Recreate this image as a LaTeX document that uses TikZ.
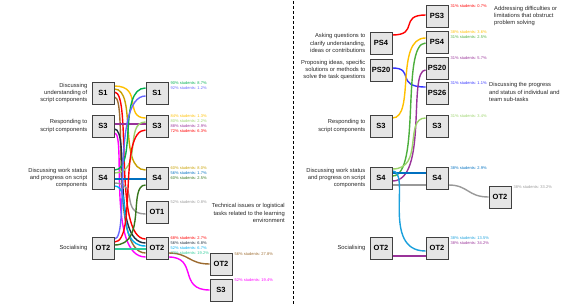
\documentclass[tikz,border=0pt]{standalone}
\usepackage{fontspec}
\setmainfont{Liberation Sans}
\usepackage{tikz}
\usetikzlibrary{positioning,calc,backgrounds}
\definecolor{FlowGreen}{HTML}{00B050}
\definecolor{FlowBluish}{HTML}{6666FF}
\definecolor{FlowYellow}{HTML}{FFC000}
\definecolor{FlowLime}{HTML}{9BD36B}
\definecolor{FlowPurple}{HTML}{993399}
\definecolor{FlowRed}{HTML}{FF0000}
\definecolor{FlowGold}{HTML}{C8A000}
\definecolor{FlowBlue}{HTML}{0070C0}
\definecolor{FlowDarkGreen}{HTML}{38761D}
\definecolor{FlowGray}{HTML}{999999}
\definecolor{FlowNavy}{HTML}{1F3040}
\definecolor{FlowCyan}{HTML}{00B0F0}
\definecolor{FlowTeal}{HTML}{2ECC9A}
\definecolor{FlowBrown}{HTML}{9C6B30}
\definecolor{FlowMagenta}{HTML}{FF00FF}
\definecolor{FlowMidGreen}{HTML}{4CAF3C}
\definecolor{FlowRoyal}{HTML}{3333FF}
\definecolor{FlowSky}{HTML}{1AA0DC}

\begin{document}
\begin{tikzpicture}[x=1pt, y=-1pt,
    state/.style={draw=black!75, fill=black!10, line width=0.9pt,
                  minimum width=22pt, minimum height=22pt, inner sep=0pt,
                  font=\fontsize{7.5}{8}\selectfont\bfseries},
    code/.style={font=\fontsize{5.8}{7.3}\selectfont, text=black!85,
                 align=right, inner sep=0pt},
    note/.style={font=\fontsize{5.8}{7.3}\selectfont, text=black!85, inner sep=0pt},
    stat/.style={font=\fontsize{4}{5}\selectfont, align=left,
                 anchor=north west, inner sep=0pt, xshift=2pt},
    flow/.style={line width=1.4pt},
  ]
    \useasboundingbox (0,0) rectangle (571,305);

    % divider
    \coordinate (divtop) at (293,1);
    \coordinate (divbot) at (293,305);
    \draw[dash pattern=on 3pt off 2pt, line width=0.6pt] (divtop) -- (divbot);

    % ---- left panel: first step
    \node[state] (s1a) at (103,93) {S1};
    \node[state] (s3a) at (103,126) {S3};
    \node[state] (s4a) at (103,178) {S4};
    \node[state] (ot2a) at (103,248) {OT2};
    \node[code, left=4pt of s1a] (s1a-text) {Discussing\\understanding of\\script components};
    \node[code, left=4pt of s3a] (s3a-text) {Responding to\\script components};
    \node[code, left=4pt of s4a] (s4a-text) {Discussing work status\\and progress on script\\components};
    \node[code, left=4pt of ot2a] (ot2a-text) {Socialising};

    % ---- left panel: second step
    \node[state] (s1b) at (157,93) {S1};
    \node[state] (s3b) at (157,126) {S3};
    \node[state] (s4b) at (157,178) {S4};
    \node[state] (ot1b) at (157,212) {OT1};
    \node[state] (ot2b) at (157,248) {OT2};
    \node[code, anchor=east] (ot1b-text) at (285,213)
      {Technical issues or logistical\\tasks related to the learning\\environment};

    % ---- left panel: third step
    \node[state] (ot2c) at (221,264) {OT2};
    \node[state] (s3c) at (221,290) {S3};

    % ---- left panel: shares
    \node[stat] (s1b-stat) at (s1b.north east)
      {\textcolor{FlowGreen}{90\% students: 8.7\%}\\\textcolor{FlowBluish}{92\% students: 1.2\%}};
    \node[stat] (s3b-stat) at (s3b.north east)
      {\textcolor{FlowYellow}{84\% students: 1.3\%}\\\textcolor{FlowLime}{80\% students: 2.2\%}\\
       \textcolor{FlowPurple}{88\% students: 2.9\%}\\\textcolor{FlowRed}{72\% students: 6.3\%}};
    \node[stat] (s4b-stat) at (s4b.north east)
      {\textcolor{FlowGold}{60\% students: 8.0\%}\\\textcolor{FlowBlue}{56\% students: 1.7\%}\\
       \textcolor{FlowDarkGreen}{60\% students: 2.5\%}};
    \node[stat] (ot1b-stat) at (ot1b.north east)
      {\textcolor{FlowGray}{52\% students: 0.8\%}};
    \node[stat] (ot2b-stat) at (ot2b.north east)
      {\textcolor{FlowRed}{68\% students: 2.7\%}\\\textcolor{FlowNavy}{56\% students: 6.8\%}\\
       \textcolor{FlowCyan}{52\% students: 6.7\%}\\\textcolor{FlowTeal}{72\% students: 19.2\%}};
    \node[stat] (ot2c-stat) at (ot2c.north east)
      {\textcolor{FlowBrown}{56\% students: 27.8\%}};
    \node[stat] (s3c-stat) at (s3c.north east)
      {\textcolor{FlowMagenta}{52\% students: 19.4\%}};

    % ---- right panel: first step
    \node[state] (rps4a) at (381,43) {PS4};
    \node[state] (rps20a) at (381,70) {PS20};
    \node[state] (rs3a) at (381,126) {S3};
    \node[state] (rs4a) at (381,178) {S4};
    \node[state] (rot2a) at (381,248) {OT2};
    \node[code, left=4pt of rps4a] (rps4a-text) {Asking questions to\\clarify understanding,\\ideas or contributions};
    \node[code, left=4pt of rps20a] (rps20a-text) {Proposing ideas, specific\\solutions or methods to\\solve the task questions};
    \node[code, left=4pt of rs3a] (rs3a-text) {Responding to\\script components};
    \node[code, left=4pt of rs4a] (rs4a-text) {Discussing work status\\and progress on script\\components};
    \node[code, left=4pt of rot2a] (rot2a-text) {Socialising};

    % ---- right panel: second step
    \node[state] (rps3b) at (437,16) {PS3};
    \node[state] (rps4b) at (437,42) {PS4};
    \node[state] (rps20b) at (437,68) {PS20};
    \node[state] (rps26b) at (437,93) {PS26};
    \node[state] (rs3b) at (437,126) {S3};
    \node[state] (rs4b) at (437,178) {S4};
    \node[state] (rot2b) at (437,248) {OT2};
    \node[note, align=left, anchor=west] (rps3b-text) at (494,16)
      {Addressing difficulties or\\limitations that obstruct\\problem solving};
    \node[note, align=left, anchor=west] (rps26b-text) at (489,92)
      {Discussing the progress\\and status of individual and\\team sub-tasks};

    % ---- right panel: third step
    \node[state] (rot2c) at (500,197) {OT2};

    % ---- right panel: shares
    \node[stat] (rps3b-stat) at (rps3b.north east)
      {\textcolor{FlowRed}{31\% students: 0.7\%}};
    \node[stat] (rps4b-stat) at (rps4b.north east)
      {\textcolor{FlowYellow}{38\% students: 3.6\%}\\\textcolor{FlowMidGreen}{31\% students: 2.5\%}};
    \node[stat] (rps20b-stat) at (rps20b.north east)
      {\textcolor{FlowPurple}{31\% students: 5.7\%}};
    \node[stat] (rps26b-stat) at (rps26b.north east)
      {\textcolor{FlowRoyal}{31\% students: 1.1\%}};
    \node[stat] (rs3b-stat) at (rs3b.north east)
      {\textcolor{FlowLime}{31\% students: 3.4\%}};
    \node[stat] (rs4b-stat) at (rs4b.north east)
      {\textcolor{FlowBlue}{38\% students: 2.9\%}};
    \node[stat] (rot2c-stat) at (rot2c.north east)
      {\textcolor{FlowGray}{38\% students: 33.2\%}};
    \node[stat] (rot2b-stat) at (rot2b.north east)
      {\textcolor{FlowSky}{38\% students: 13.5\%}\\\textcolor{FlowPurple}{38\% students: 34.2\%}};

    % ---- flows
    \begin{scope}[on background layer]
      % left panel
      \draw[flow, FlowYellow] ([yshift=7pt]s1a.east) .. controls +(29,0) and +(-22,0) .. ([yshift=8pt]s3b.west);
      \draw[flow, FlowGold] ([yshift=4pt]s1a.east) .. controls +(23,0) and +(-28,0) .. ([yshift=8pt]s4b.west);
      \draw[flow, FlowRed] ([yshift=1pt]s1a.east) .. controls +(18,0) and +(-33,0) .. ([yshift=9pt]ot2b.west);
      \draw[flow, FlowBrown] ([yshift=-4pt]s1a.east) .. controls +(14,0) and +(-37,0) .. ([yshift=-5pt]ot2b.west);
      \draw[flow, FlowPurple] ([yshift=2pt]s3a.east) -- ([yshift=2pt]s3b.west);
      \draw[flow, FlowNavy] ([yshift=-3pt]s3a.east) .. controls +(16,0) and +(-35,0) .. ([yshift=5pt]ot2b.west);
      \draw[flow, FlowMagenta] ([yshift=-7pt]s3a.east) .. controls +(12,0) and +(-39,0) .. ([yshift=-9pt]ot2b.west);
      \draw[flow, FlowGreen] ([yshift=8pt]s4a.east) .. controls +(23,0) and +(-28,0) .. ([yshift=5pt]s1b.west);
      \draw[flow, FlowLime] ([yshift=5pt]s4a.east) .. controls +(29,0) and +(-22,0) .. ([yshift=4pt]s3b.west);
      \draw[flow, FlowBlue] ([yshift=-1pt]s4a.east) -- ([yshift=-1pt]s4b.west);
      \draw[flow, FlowGray] ([yshift=-5pt]s4a.east) .. controls +(25,0) and +(-26,0) .. ([yshift=-2pt]ot1b.west);
      \draw[flow, FlowCyan] ([yshift=-8pt]s4a.east) .. controls +(19,0) and +(-32,0) .. ([yshift=2pt]ot2b.west);
      \draw[flow, FlowBluish] ([yshift=9pt]ot2a.east) .. controls +(16,0) and +(-35,0) .. ([yshift=-3pt]s1b.west);
      \draw[flow, FlowRed] ([yshift=6pt]ot2a.east) .. controls +(23,0) and +(-28,0) .. ([yshift=-4pt]s3b.west);
      \draw[flow, FlowDarkGreen] ([yshift=3pt]ot2a.east) .. controls +(33,0) and +(-18,0) .. ([yshift=-7pt]s4b.west);
      \draw[flow, FlowTeal] ([yshift=-1pt]ot2a.east) -- ([yshift=-1pt]ot2b.west);
      \draw[flow, FlowBrown] ([yshift=-5pt]ot2b.east) .. controls +(21,0) and +(-21,0) .. (ot2c.west);
      \draw[flow, FlowMagenta] ([yshift=-9pt]ot2b.east) .. controls +(30,0) and +(-32,0) .. (s3c.west);
      % right panel
      \draw[flow, FlowRed] ([yshift=8pt]rps4a.east) .. controls +(27,0) and +(-27,0) .. ([yshift=1pt]rps3b.west);
      \draw[flow, FlowRoyal] ([yshift=2pt]rps20a.east) .. controls +(23,0) and +(-31,0) .. ([yshift=6pt]rps26b.west);
      \draw[flow, FlowYellow] ([yshift=8pt]rs3a.east) .. controls +(23,0) and +(-31,0) .. ([yshift=4pt]rps4b.west);
      \draw[flow, FlowMidGreen] ([yshift=2pt]rs4a.east) .. controls +(29,0) and +(-25,0) .. ([yshift=-1pt]rps4b.west);
      \draw[flow, FlowPurple] ([yshift=-3pt]rs4a.east) .. controls +(36,0) and +(-18,0) .. ([yshift=-2pt]rps20b.west);
      \draw[flow, FlowLime] ([yshift=9pt]rs4a.east) .. controls +(32,0) and +(-22,0) .. ([yshift=8pt]rs3b.west);
      \draw[flow, FlowBlue] ([yshift=5pt]rs4a.east) -- ([yshift=5pt]rs4b.west);
      \draw[flow, FlowGray] ([yshift=-7pt]rs4a.east) -- ([yshift=-7pt]rs4b.west);
      \draw[flow, FlowGray] ([yshift=-7pt]rs4b.east) .. controls +(20,0) and +(-21,0) .. (rot2c.west);
      \draw[flow, FlowSky] ([yshift=7pt]rs4a.east) .. controls +(19,0) and +(-45,0) .. ([yshift=-3pt]rot2b.west);
      \draw[flow, FlowPurple] ([yshift=-8pt]rot2a.east) -- ([yshift=-8pt]rot2b.west);
    \end{scope}
\end{tikzpicture}
\end{document}
